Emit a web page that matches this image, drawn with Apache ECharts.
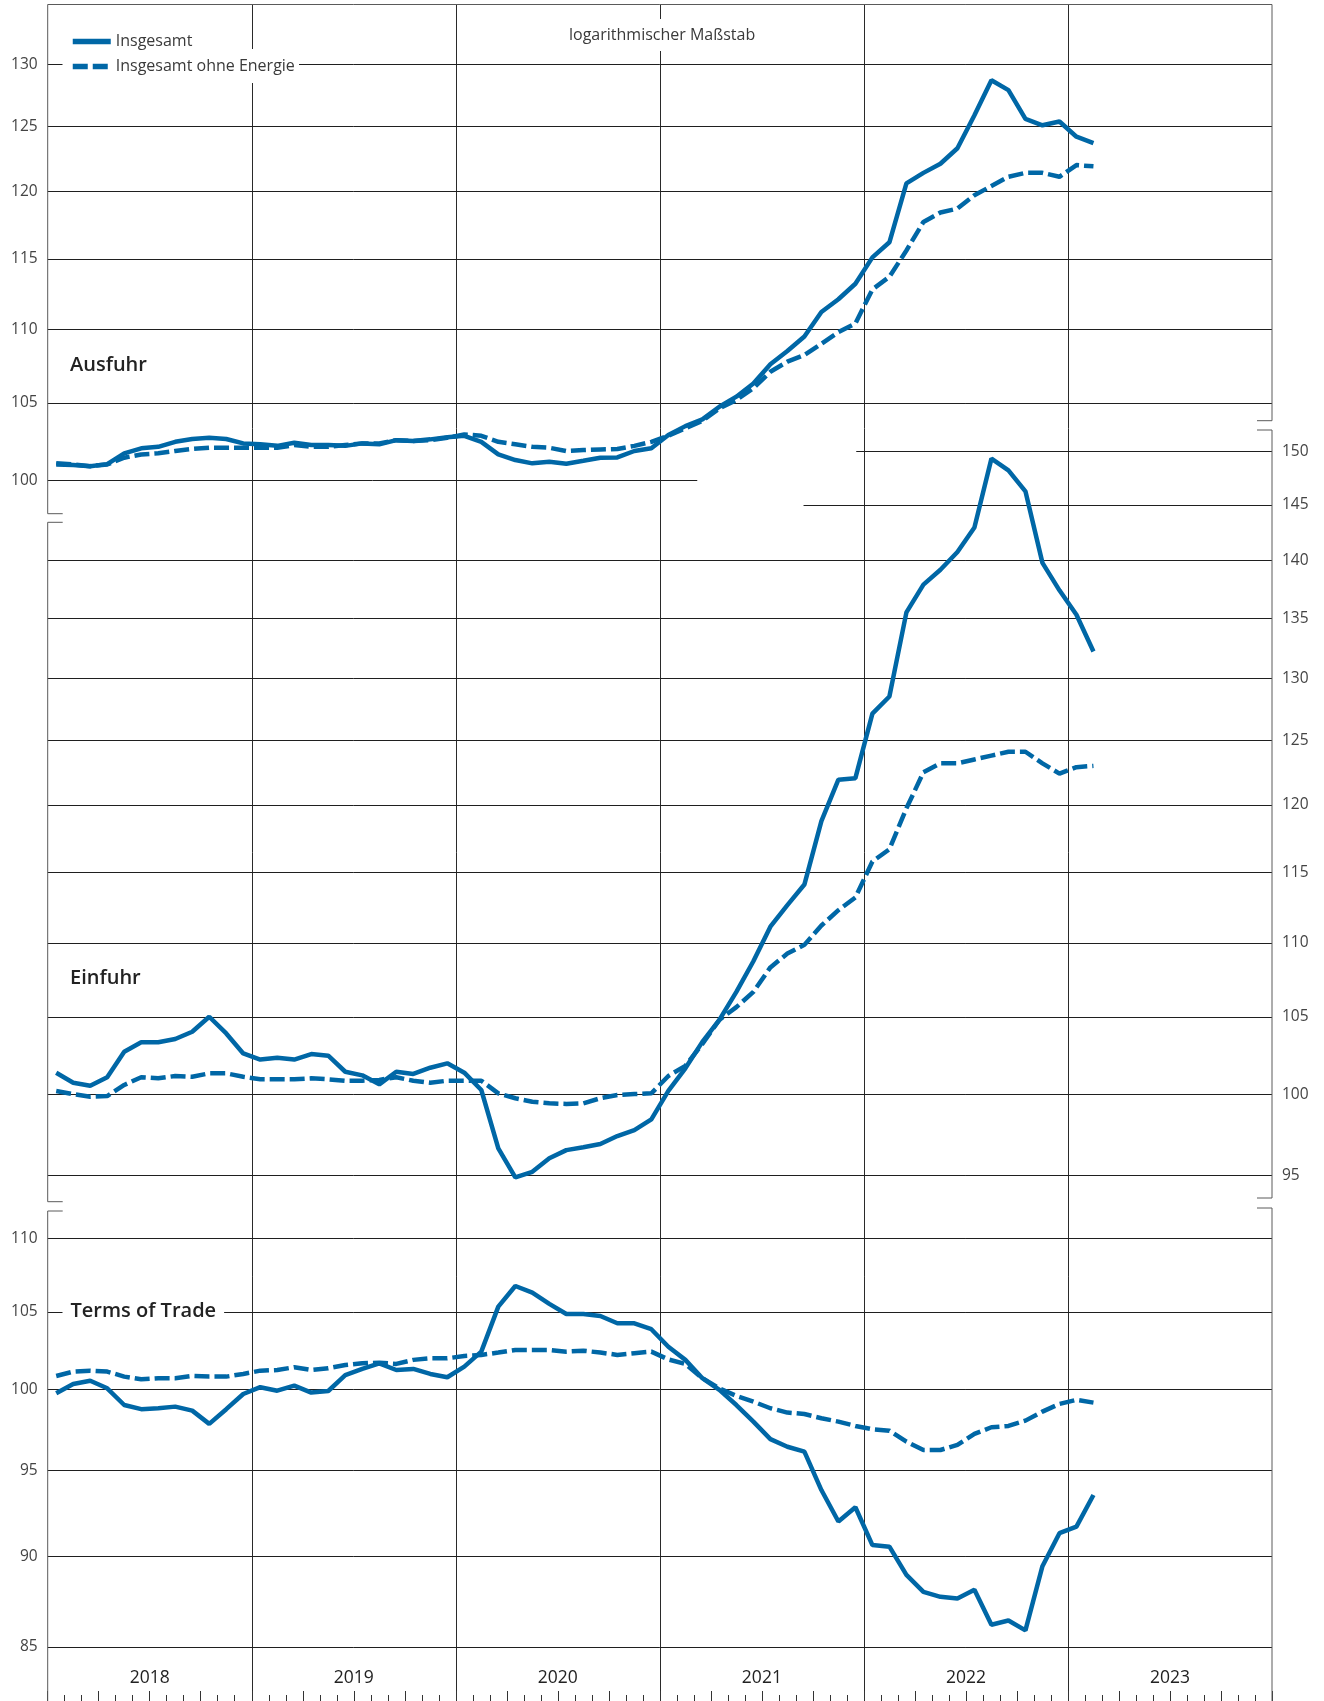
<!DOCTYPE html>
<html>
<head>
<meta charset="utf-8">
<script src="https://cdn.jsdelivr.net/npm/echarts@6/dist/echarts.min.js"></script>
<style>
  html, body { margin: 0; padding: 0; background: #fff; }
  #chart { width: 1324px; height: 1701px; }
</style>
</head>
<body>
<div id="chart"></div>
<script>
// Monthly price indices, Jan 2018 to Feb 2023
const years = ['2018', '2019', '2020', '2021', '2022', '2023'];

const ausfuhrInsgesamt = [
  101.0, 100.97, 100.9, 101.03, 101.72, 102.04, 102.14, 102.46, 102.64, 102.72, 102.64, 102.36,
  102.3, 102.2, 102.4, 102.25, 102.25, 102.2, 102.36, 102.3, 102.57, 102.51, 102.62, 102.75,
  102.85, 102.46, 101.65, 101.29, 101.08, 101.18, 101.05, 101.24, 101.44, 101.46, 101.87, 102.04,
  102.9, 103.48, 103.92, 104.75, 105.42, 106.3, 107.6, 108.5, 109.5, 111.2, 112.1, 113.2,
  115.1, 116.2, 120.6, 121.4, 122.1, 123.3, 125.9, 128.7, 127.9, 125.6, 125.1, 125.4,
  124.2, 123.7
];
const ausfuhrOhneEnergie = [
  101.08, 101.01, 100.9, 101.01, 101.44, 101.65, 101.72, 101.87, 102.0, 102.08, 102.08, 102.08,
  102.08, 102.08, 102.25, 102.14, 102.14, 102.25, 102.36, 102.36, 102.57, 102.51, 102.57, 102.72,
  102.94, 102.85, 102.46, 102.3, 102.14, 102.08, 101.87, 101.93, 101.97, 102.0, 102.2, 102.46,
  102.85, 103.33, 103.83, 104.64, 105.2, 105.98, 107.09, 107.77, 108.23, 109.0, 109.8, 110.4,
  112.8, 113.7, 115.6, 117.7, 118.4, 118.7, 119.7, 120.4, 121.1, 121.4, 121.4, 121.1,
  122.0, 121.9
];
const einfuhrInsgesamt = [
  101.36, 100.72, 100.53, 101.07, 102.71, 103.32, 103.32, 103.54, 104.01, 105.0, 103.9, 102.6,
  102.2, 102.32, 102.2, 102.56, 102.45, 101.42, 101.19, 100.62, 101.42, 101.28, 101.68, 101.96,
  101.36, 100.26, 96.64, 94.89, 95.22, 96.03, 96.53, 96.7, 96.9, 97.39, 97.76, 98.42,
  100.2, 101.64, 103.35, 104.79, 106.66, 108.74, 111.14, 112.66, 114.13, 118.79, 121.93, 122.05,
  127.12, 128.5, 135.5, 137.9, 139.2, 140.76, 142.95, 149.3, 148.2, 146.25, 139.8, 137.4,
  135.3, 132.2
];
const einfuhrOhneEnergie = [
  100.2, 100.0, 99.84, 99.88, 100.58, 101.07, 101.0, 101.15, 101.1, 101.32, 101.32, 101.1,
  100.94, 100.94, 100.94, 101.0, 100.94, 100.85, 100.85, 100.9, 101.07, 100.85, 100.72, 100.85,
  100.85, 100.85, 100.05, 99.74, 99.52, 99.42, 99.38, 99.42, 99.74, 99.94, 100.0, 100.05,
  101.15, 101.8, 103.22, 104.79, 105.64, 106.66, 108.32, 109.27, 109.87, 111.22, 112.3, 113.2,
  115.8, 116.7, 119.75, 122.5, 123.2, 123.2, 123.5, 123.8, 124.1, 124.1, 123.2, 122.4,
  122.9, 123.0
];
const totInsgesamt = [
  99.75, 100.33, 100.54, 100.06, 99.01, 98.75, 98.81, 98.91, 98.66, 97.84, 98.75, 99.7,
  100.13, 99.91, 100.23, 99.79, 99.89, 100.9, 101.29, 101.65, 101.22, 101.29, 100.97, 100.76,
  101.44, 102.4, 105.35, 106.73, 106.28, 105.53, 104.86, 104.86, 104.73, 104.25, 104.25, 103.86,
  102.72, 101.87, 100.7, 99.96, 99.01, 97.98, 96.9, 96.44, 96.14, 93.84, 92.0, 92.83,
  90.64, 90.55, 88.95, 88.0, 87.73, 87.64, 88.12, 86.2, 86.43, 85.89, 89.44, 91.32,
  91.7, 93.55
];
const totOhneEnergie = [
  100.84, 101.12, 101.18, 101.12, 100.8, 100.63, 100.7, 100.7, 100.84, 100.8, 100.8, 100.97,
  101.18, 101.22, 101.4, 101.22, 101.33, 101.54, 101.65, 101.69, 101.61, 101.87, 101.97, 101.97,
  102.12, 102.19, 102.34, 102.51, 102.51, 102.51, 102.4, 102.46, 102.34, 102.19, 102.3, 102.4,
  101.9, 101.61, 100.7, 100.06, 99.58, 99.22, 98.81, 98.54, 98.45, 98.19, 97.98, 97.71,
  97.51, 97.42, 96.75, 96.24, 96.24, 96.55, 97.22, 97.63, 97.71, 98.04, 98.6, 99.08,
  99.33, 99.16
];

// Tick values of the three logarithmic scales
const ausfuhrTicks = [100, 105, 110, 115, 120, 125, 130];
const einfuhrTicks = [95, 100, 105, 110, 115, 120, 125, 130, 135, 140, 145, 150];
const totTicks = [85, 90, 95, 100, 105, 110];

const seriesNames = ['Insgesamt', 'Insgesamt ohne Energie'];

// ---- layout & style ----
const W = 1324, H = 1701;
const L = 47.7, R = 1272, TOP = 4.5;
const MONTHS = years.length * 12;
const BLUE = '#0067a6';
const FONT = "'Open Sans', 'Noto Sans', sans-serif";
const GRID_COLOR = '#1f1f1f';
const FRAME_COLOR = '#5a5a5a';

const panels = [
  { key: 'aus', top: 4.5,  bottom: 513.7, min: 97.92, max: 135.0, ticks: ausfuhrTicks, side: 'left',
    partial: { 100: [0, 38.2] },
    data: [ausfuhrInsgesamt, ausfuhrOhneEnergie] },
  { key: 'ein', top: 430,  bottom: 1201.7, min: 93.44, max: 152.02, ticks: einfuhrTicks, side: 'right',
    partial: { 150: [47.55, MONTHS], 145: [44.45, MONTHS] },
    data: [einfuhrInsgesamt, einfuhrOhneEnergie] },
  { key: 'tot', top: 1208, bottom: 1701, min: 82.15, max: 112.11, ticks: totTicks, side: 'left',
    partial: {},
    data: [totInsgesamt, totOhneEnergie] }
];

function toPoints(values) {
  return values.map((v, i) => [i + 0.5, v]);
}

function gridLines(p) {
  return p.ticks.map(v => {
    const label = {
      show: true,
      formatter: String(v),
      position: p.side === 'right' ? 'end' : 'start'
    };
    const span = p.partial[v];
    if (span) {
      return [{ coord: [span[0], v], label: label }, { coord: [span[1], v] }];
    }
    return { yAxis: v, label: label };
  });
}

const grid = [{ left: L, top: TOP, width: R - L, bottom: 0 }];
const xAxis = [
  // month ticks
  { gridIndex: 0, type: 'value', min: 0, max: MONTHS, interval: 1, position: 'bottom',
    axisLine: { show: false }, axisLabel: { show: false }, splitLine: { show: false },
    axisTick: { show: true, inside: true, length: 6, lineStyle: { color: '#333', width: 1 } } },
  // quarter ticks
  { gridIndex: 0, type: 'value', min: 0, max: MONTHS, interval: 3, position: 'bottom',
    axisLine: { show: false }, axisLabel: { show: false }, splitLine: { show: false },
    axisTick: { show: true, inside: true, length: 10, lineStyle: { color: '#333', width: 1 } } },
  // year separators
  { gridIndex: 0, type: 'value', min: 0, max: MONTHS, interval: 12, position: 'bottom',
    axisLine: { show: false }, axisLabel: { show: false }, axisTick: { show: false },
    splitLine: { show: true, showMinLine: false, showMaxLine: false,
                 lineStyle: { color: '#2a2a2a', width: 1 } } },
  // year labels
  { gridIndex: 0, type: 'category', data: years, boundaryGap: true, position: 'bottom', offset: -23,
    axisLine: { show: false }, axisTick: { show: false }, splitLine: { show: false },
    axisLabel: { show: true, margin: 0, verticalAlign: 'middle', color: '#222',
                 fontSize: 17.5, fontFamily: FONT } }
];
const yAxis = [{ gridIndex: 0, type: 'value', show: false, min: 0, max: 1 }];
const series = [];

panels.forEach((p, k) => {
  const gi = k + 1;
  grid.push({ left: L, width: R - L, top: p.top, height: p.bottom - p.top });
  xAxis.push({ gridIndex: gi, type: 'value', min: 0, max: MONTHS, show: false });
  yAxis.push({ gridIndex: gi, type: 'log', logBase: 10, min: p.min, max: p.max, show: false });
  p.data.forEach((values, j) => {
    const s = {
      name: seriesNames[j],
      type: 'line',
      xAxisIndex: xAxis.length - 1,
      yAxisIndex: yAxis.length - 1,
      data: toPoints(values),
      symbol: 'none',
      z: 4,
      lineStyle: { color: BLUE, width: 4.5, type: j === 0 ? 'solid' : [15, 5] },
      itemStyle: { color: BLUE },
      emphasis: { disabled: true }
    };
    if (j === 0) {
      s.markLine = {
        silent: true,
        z: 1,
        symbol: ['none', 'none'],
        animation: false,
        emphasis: { disabled: true },
        lineStyle: { color: GRID_COLOR, width: 1, type: 'solid' },
        label: { color: '#444', fontSize: 15.5, fontFamily: FONT, distance: 10 },
        data: gridLines(p)
      };
    }
    series.push(s);
  });
});

// frame with scale breaks between the panels
const B = 15;
const frameLines = [
  [[L, TOP], [R, TOP]],
  [[L, TOP], [L, 513.7], [L + B, 513.7]],
  [[L + B, 522.3], [L, 522.3], [L, 1201.7], [L + B, 1201.7]],
  [[L + B, 1211], [L, 1211], [L, H]],
  [[R, TOP], [R, 420.7], [R - B, 420.7]],
  [[R - B, 430], [R, 430], [R, 1198], [R - B, 1198]],
  [[R - B, 1208], [R, 1208], [R, H]]
];
const graphic = frameLines.map(pts => ({
  type: 'polyline', z: 5, silent: true,
  shape: { points: pts },
  style: { stroke: FRAME_COLOR, lineWidth: 1, fill: null }
}));
// white backing behind the second legend row
graphic.push({ type: 'rect', z: 5, silent: true,
  shape: { x: 62.5, y: 49, width: 236.5, height: 34 }, style: { fill: '#fff' } });

const option = {
  animation: false,
  backgroundColor: '#fff',
  textStyle: { fontFamily: FONT },
  grid: grid,
  xAxis: xAxis,
  yAxis: yAxis,
  series: series,
  graphic: graphic,
  legend: {
    data: seriesNames,
    orient: 'vertical',
    left: 70, top: 33.5,
    padding: 0,
    itemGap: 9,
    itemWidth: 38, itemHeight: 14,
    z: 7,
    selectedMode: false,
    // legend keys show only the line stroke
    itemStyle: { opacity: 0, color: 'rgba(0,0,0,0)', borderWidth: 0 },
    lineStyle: { width: 5.5 },
    textStyle: { color: '#3a3a3a', fontSize: 16, fontFamily: FONT }
  },
  title: [
    { text: 'logarithmischer Maßstab', left: 563, top: 19, padding: [8, 6], backgroundColor: '#fff', z: 7,
      textStyle: { fontSize: 16, fontWeight: 'normal', color: '#3a3a3a', fontFamily: FONT } },
    { text: 'Ausfuhr', left: 70, top: 355, padding: 0, z: 7,
      textStyle: { fontSize: 20, fontWeight: 600, color: '#222', fontFamily: FONT } },
    { text: 'Einfuhr', left: 70, top: 968, padding: 0, z: 7,
      textStyle: { fontSize: 20, fontWeight: 600, color: '#222', fontFamily: FONT } },
    { text: 'Terms of Trade', left: 62.5, top: 1299, padding: [2, 8], backgroundColor: '#fff', z: 7,
      textStyle: { fontSize: 20, fontWeight: 600, color: '#222', fontFamily: FONT } }
  ]
};

const chart = echarts.init(document.getElementById('chart'), null, { renderer: 'canvas', width: W, height: H });
chart.setOption(option);
</script>
</body>
</html>
